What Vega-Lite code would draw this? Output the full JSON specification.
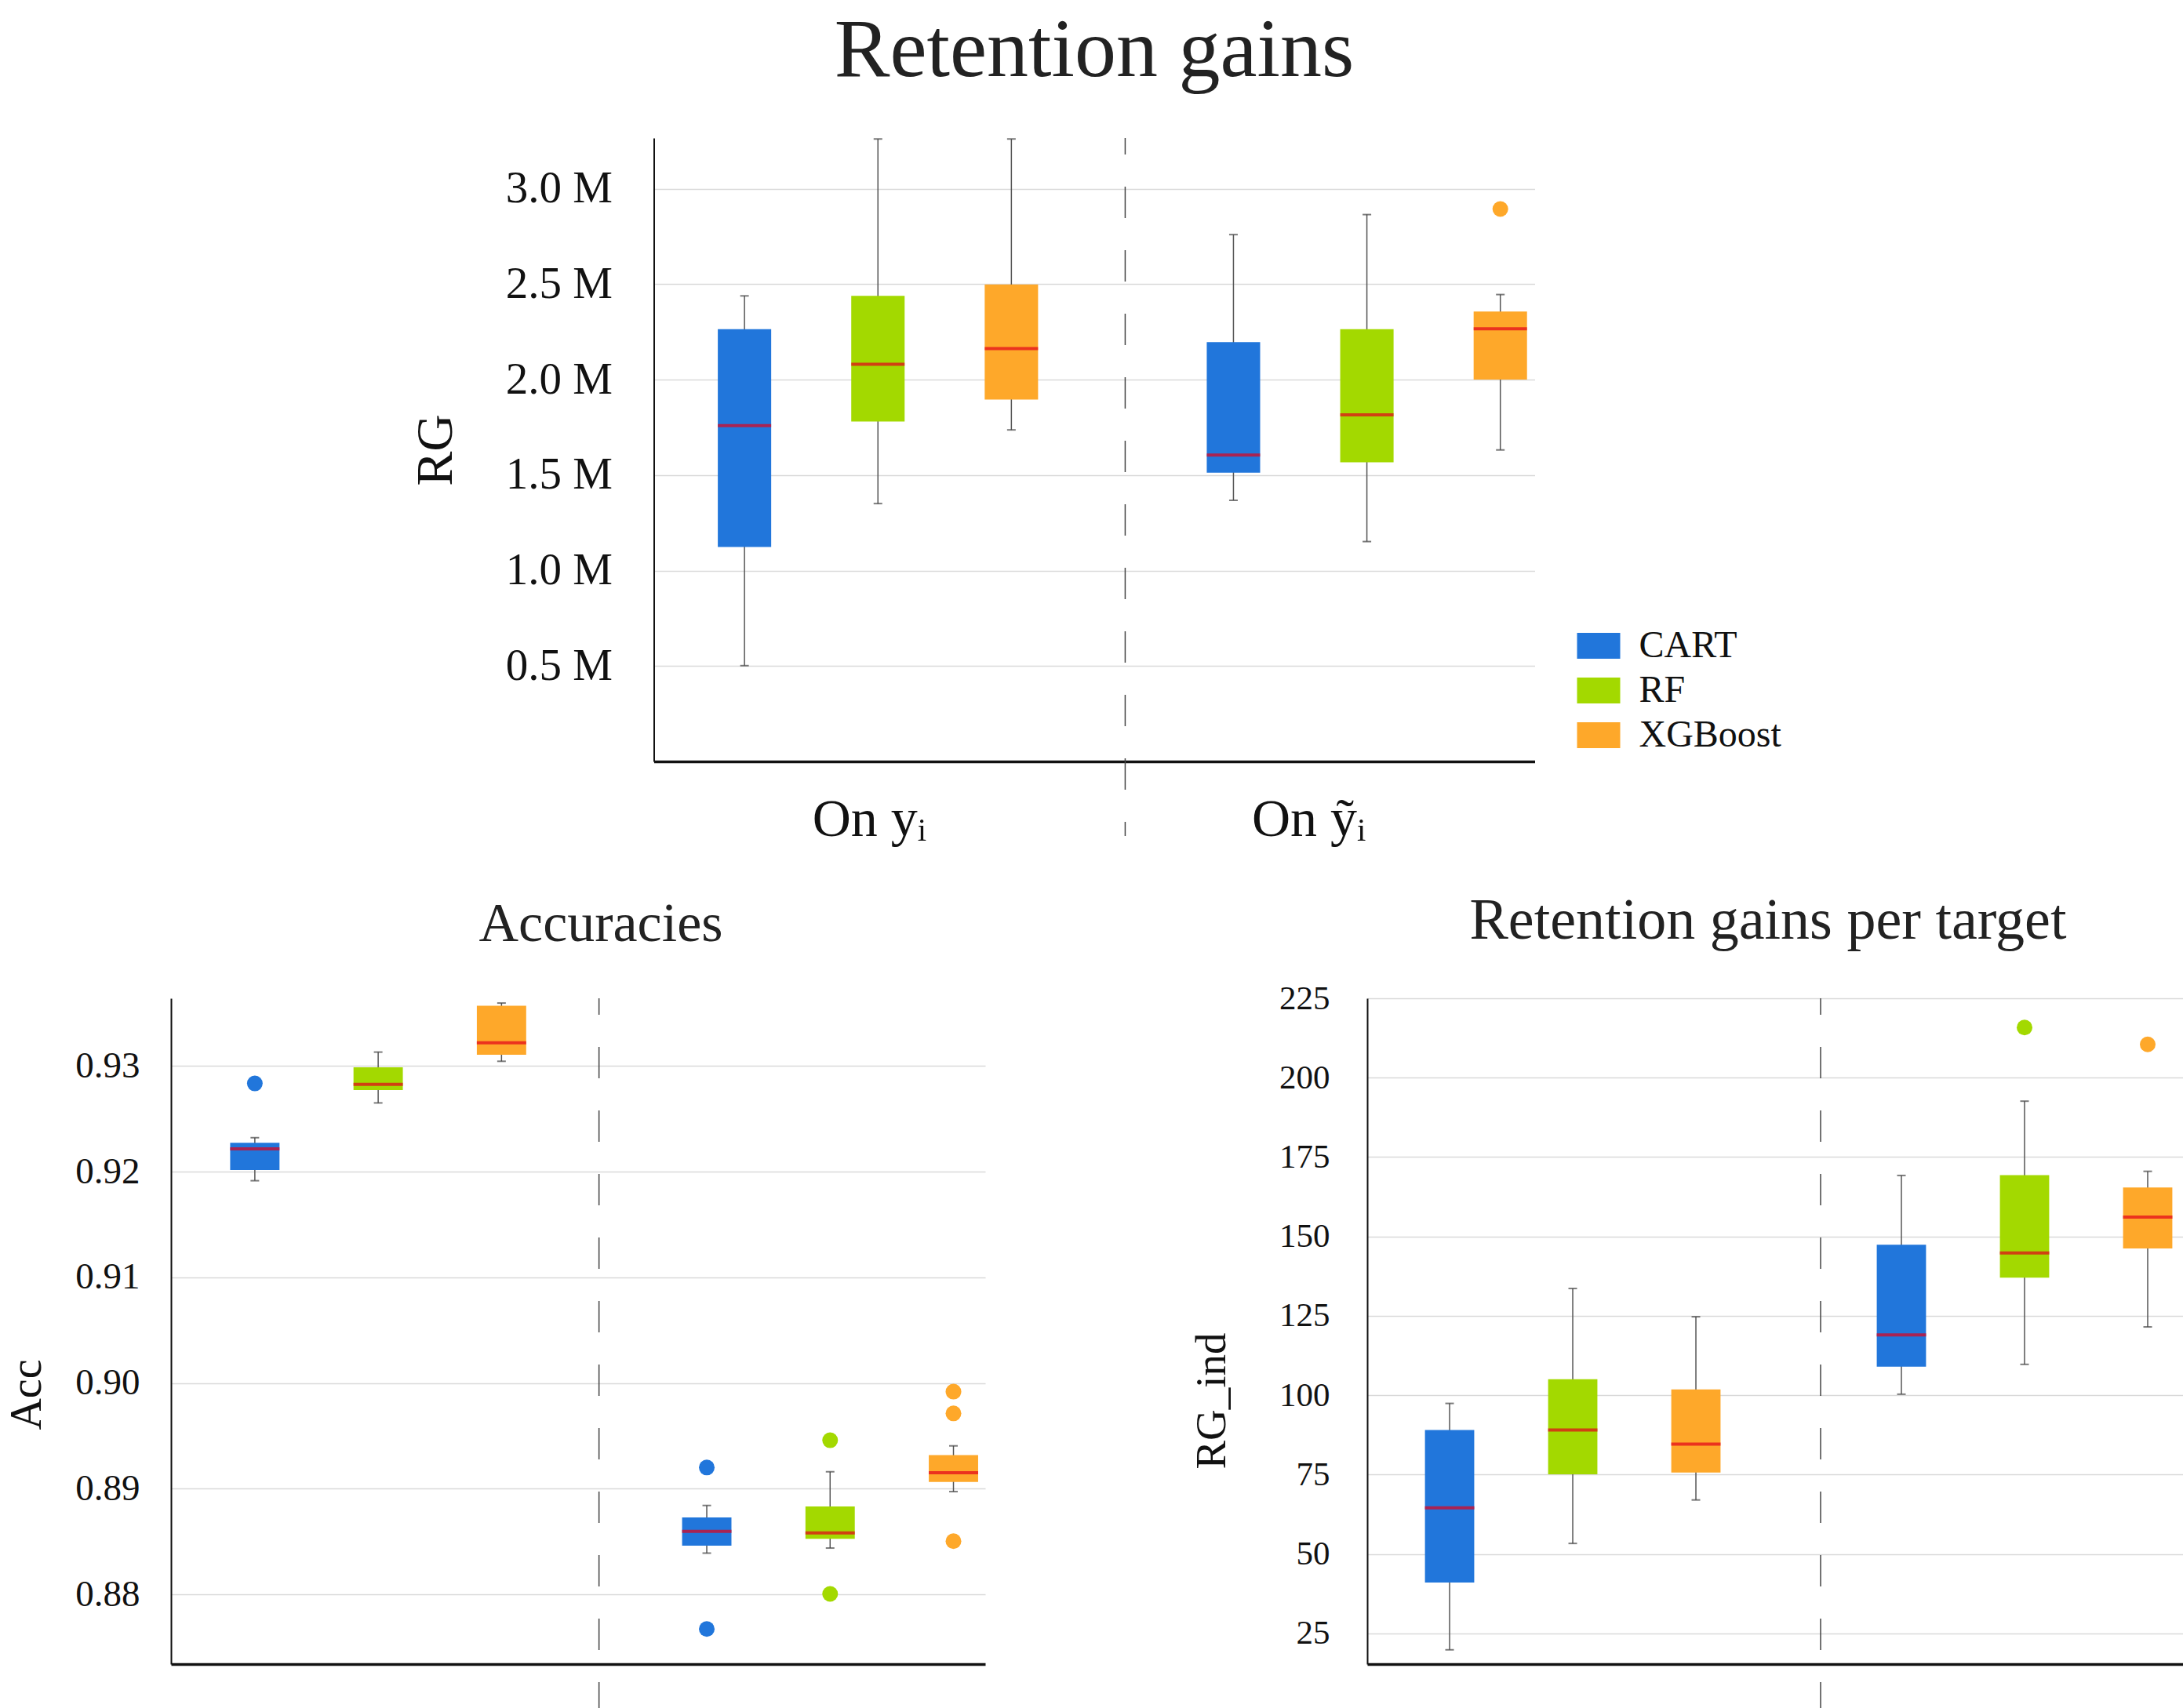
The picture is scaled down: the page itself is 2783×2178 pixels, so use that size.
{
  "$schema": "https://vega.github.io/schema/vega-lite/v6.json",
  "background": "white",
  "padding": {"left": 6, "top": 12, "right": 0, "bottom": 0},
  "config": {
    "font": "Liberation Serif",
    "view": {"stroke": null},
    "axis": {"labelFont": "Liberation Serif", "titleFont": "Liberation Serif", "labelColor": "#111111", "titleColor": "#111111", "titleFontWeight": "normal", "gridColor": "#d9d9d9", "gridWidth": 1.5, "domainColor": "#111111", "ticks": false},
    "axisX": {"grid": false},
    "title": {"font": "Liberation Serif", "fontWeight": "normal", "color": "#222222"}
  },
  "datasets": {
    "rg": [
      {"target": "On yᵢ", "model": "CART", "min": 502000, "q1": 1124000, "median": 1759000, "q3": 2265000, "max": 2439000},
      {"target": "On yᵢ", "model": "RF", "min": 1351000, "q1": 1781000, "median": 2081000, "q3": 2439000, "max": 3261000},
      {"target": "On yᵢ", "model": "XGBoost", "min": 1737000, "q1": 1896000, "median": 2163000, "q3": 2499000, "max": 3261000},
      {"target": "On ỹᵢ", "model": "CART", "min": 1368000, "q1": 1513000, "median": 1605000, "q3": 2197000, "max": 2760000},
      {"target": "On ỹᵢ", "model": "RF", "min": 1152000, "q1": 1567000, "median": 1816000, "q3": 2265000, "max": 2865000},
      {"target": "On ỹᵢ", "model": "XGBoost", "min": 1632000, "q1": 2001000, "median": 2267000, "q3": 2357000, "max": 2446000}
    ],
    "rg_out": [
      {"target": "On ỹᵢ", "model": "XGBoost", "value": 2894000}
    ],
    "acc": [
      {"target": "On yᵢ", "model": "CART", "min": 0.91914, "q1": 0.92015, "median": 0.92216, "q3": 0.92273, "max": 0.92321},
      {"target": "On yᵢ", "model": "RF", "min": 0.9265, "q1": 0.92772, "median": 0.92825, "q3": 0.92987, "max": 0.93131},
      {"target": "On yᵢ", "model": "XGBoost", "min": 0.93044, "q1": 0.93105, "median": 0.93219, "q3": 0.93569, "max": 0.93595},
      {"target": "On ỹᵢ", "model": "CART", "min": 0.8839, "q1": 0.8846, "median": 0.88595, "q3": 0.88727, "max": 0.88841},
      {"target": "On ỹᵢ", "model": "RF", "min": 0.88438, "q1": 0.88525, "median": 0.88582, "q3": 0.88832, "max": 0.8916},
      {"target": "On ỹᵢ", "model": "XGBoost", "min": 0.88972, "q1": 0.89064, "median": 0.89151, "q3": 0.89318, "max": 0.89405}
    ],
    "acc_out": [
      {"target": "On yᵢ", "model": "CART", "value": 0.92834},
      {"target": "On ỹᵢ", "model": "CART", "value": 0.892},
      {"target": "On ỹᵢ", "model": "CART", "value": 0.87672},
      {"target": "On ỹᵢ", "model": "RF", "value": 0.89458},
      {"target": "On ỹᵢ", "model": "RF", "value": 0.88004},
      {"target": "On ỹᵢ", "model": "XGBoost", "value": 0.89918},
      {"target": "On ỹᵢ", "model": "XGBoost", "value": 0.89712},
      {"target": "On ỹᵢ", "model": "XGBoost", "value": 0.88503}
    ],
    "ind": [
      {"target": "On yᵢ", "model": "CART", "min": 19.8, "q1": 41.0, "median": 64.5, "q3": 89.0, "max": 97.4},
      {"target": "On yᵢ", "model": "RF", "min": 53.3, "q1": 75.1, "median": 89.0, "q3": 105.0, "max": 133.6},
      {"target": "On yᵢ", "model": "XGBoost", "min": 67.0, "q1": 75.6, "median": 84.6, "q3": 101.8, "max": 124.7},
      {"target": "On ỹᵢ", "model": "CART", "min": 100.3, "q1": 109.0, "median": 119.0, "q3": 147.4, "max": 169.2},
      {"target": "On ỹᵢ", "model": "RF", "min": 109.7, "q1": 137.0, "median": 144.8, "q3": 169.3, "max": 192.6},
      {"target": "On ỹᵢ", "model": "XGBoost", "min": 121.5, "q1": 146.2, "median": 156.1, "q3": 165.4, "max": 170.5}
    ],
    "ind_out": [
      {"target": "On ỹᵢ", "model": "RF", "value": 215.8},
      {"target": "On ỹᵢ", "model": "XGBoost", "value": 210.5}
    ],
    "sep": [
      {"target": "On yᵢ"}
    ]
  },
  "spacing": 59,
  "center": true,
  "resolve": {"scale": {"color": "independent", "x": "independent", "y": "independent", "xOffset": "independent"}, "legend": {"color": "independent"}},
  "vconcat": [
    {
      "title": {"text": "Retention gains", "fontSize": 106, "frame": "group", "anchor": "middle", "baseline": "alphabetic", "offset": -28},
      "width": 1123,
      "height": 795,
      "layer": [
        {
          "data": {"name": "rg"},
          "mark": {"type": "rule", "color": "#555555", "strokeWidth": 1.5},
          "encoding": {
            "x": {"field": "target", "type": "nominal", "scale": {"domain": ["On yᵢ", "On ỹᵢ"], "paddingInner": 0.345, "paddingOuter": 0.0733, "align": 0.893}, "axis": {"title": null, "labelFontSize": 68, "labelPadding": 40, "labelAngle": 0, "domainWidth": 3.5, "grid": false, "labelOffset": {"condition": {"test": "datum.value === 'On yᵢ'", "value": -11}, "value": -74}}},
            "xOffset": {"field": "model", "type": "nominal", "scale": {"domain": ["CART", "RF", "XGBoost"], "paddingInner": 0.6, "paddingOuter": 0}},
            "y": {"field": "min", "type": "quantitative", "scale": {"domain": [0, 3266000], "nice": false, "zero": false}, "axis": {"title": "RG", "titleFontSize": 66, "titlePadding": 55, "labelFontSize": 57, "labelPadding": 53, "domainWidth": 2, "values": [500000, 1000000, 1500000, 2000000, 2500000, 3000000], "labelExpr": "format(datum.value / 1000000, '.1f') + ' M'"}},
            "y2": {"field": "max"}
          }
        },
        {
          "data": {"name": "sep"},
          "mark": {"type": "rule", "color": "#444444", "strokeWidth": 1.5, "strokeDash": [40, 41], "strokeDashOffset": 19, "clip": false},
          "encoding": {
            "x": {"field": "target", "type": "nominal", "bandPosition": 1.272},
            "y": {"datum": 3266000, "type": "quantitative"},
            "y2": {"datum": -390000}
          }
        },
        {
          "data": {"name": "rg"},
          "mark": {"type": "tick", "color": "#444444", "size": 11, "thickness": 2},
          "encoding": {
            "x": {"field": "target", "type": "nominal"},
            "xOffset": {"field": "model", "type": "nominal"},
            "y": {"field": "min", "type": "quantitative"}
          }
        },
        {
          "data": {"name": "rg"},
          "mark": {"type": "tick", "color": "#444444", "size": 11, "thickness": 2},
          "encoding": {
            "x": {"field": "target", "type": "nominal"},
            "xOffset": {"field": "model", "type": "nominal"},
            "y": {"field": "max", "type": "quantitative"}
          }
        },
        {
          "data": {"name": "rg"},
          "mark": {"type": "bar"},
          "encoding": {
            "x": {"field": "target", "type": "nominal"},
            "xOffset": {"field": "model", "type": "nominal"},
            "y": {"field": "q1", "type": "quantitative"},
            "y2": {"field": "q3"},
            "color": {"field": "model", "type": "nominal", "scale": {"domain": ["CART", "RF", "XGBoost"], "range": ["#2176DB", "#A3D900", "#FEA82A"]}, "legend": {"orient": "none", "legendX": 1177, "legendY": 620, "title": null, "symbolType": "M-1,-0.6H1V0.6H-1Z", "symbolSize": 3025, "labelFontSize": 48, "labelFont": "Liberation Serif", "labelColor": "#111111", "labelOffset": 24, "labelLimit": 0, "rowPadding": 5, "padding": 0, "symbolStrokeWidth": 0, "symbolOpacity": 1}}
          }
        },
        {
          "data": {"name": "rg"},
          "mark": {"type": "tick", "color": "#E2001A", "size": 68, "thickness": 4},
          "encoding": {
            "x": {"field": "target", "type": "nominal"},
            "xOffset": {"field": "model", "type": "nominal"},
            "y": {"field": "median", "type": "quantitative"}
          }
        },
        {
          "data": {"name": "rg_out"},
          "mark": {"type": "circle", "size": 400, "opacity": 1},
          "encoding": {
            "x": {"field": "target", "type": "nominal"},
            "xOffset": {"field": "model", "type": "nominal"},
            "y": {"field": "value", "type": "quantitative"},
            "color": {"field": "model", "type": "nominal", "legend": null}
          }
        }
      ]
    },
    {
      "spacing": 261,
      "resolve": {"scale": {"color": "independent", "x": "independent", "y": "independent", "xOffset": "independent"}, "legend": {"color": "independent"}},
      "hconcat": [
        {
          "title": {"text": "Accuracies", "fontSize": 70, "frame": "group", "anchor": "middle", "baseline": "alphabetic", "offset": 2, "dx": 29},
          "width": 1038,
          "height": 849,
          "layer": [
            {
              "data": {"name": "acc"},
              "mark": {"type": "rule", "color": "#555555", "strokeWidth": 1.5},
              "encoding": {
                "x": {"field": "target", "type": "nominal", "scale": {"domain": ["On yᵢ", "On ỹᵢ"], "paddingInner": 0.345, "paddingOuter": 0.0733, "align": 0.893}, "axis": {"title": null, "labels": false, "domainWidth": 3.5, "grid": false}},
                "xOffset": {"field": "model", "type": "nominal", "scale": {"domain": ["CART", "RF", "XGBoost"], "paddingInner": 0.6, "paddingOuter": 0}},
                "y": {"field": "min", "type": "quantitative", "scale": {"domain": [0.8734, 0.9364], "nice": false, "zero": false}, "axis": {"title": "Acc", "titleFontSize": 56, "titlePadding": 32, "titleY": 505, "labelFontSize": 47, "labelPadding": 40, "domainWidth": 2, "values": [0.88, 0.89, 0.9, 0.91, 0.92, 0.93], "format": ".2f"}},
                "y2": {"field": "max"}
              }
            },
            {
              "data": {"name": "sep"},
              "mark": {"type": "rule", "color": "#444444", "strokeWidth": 1.5, "strokeDash": [40, 41], "strokeDashOffset": 19, "clip": false},
              "encoding": {
                "x": {"field": "target", "type": "nominal", "bandPosition": 1.246},
                "y": {"datum": 0.9364, "type": "quantitative"},
                "y2": {"datum": 0.86}
              }
            },
            {
              "data": {"name": "acc"},
              "mark": {"type": "tick", "color": "#444444", "size": 11, "thickness": 2},
              "encoding": {
                "x": {"field": "target", "type": "nominal"},
                "xOffset": {"field": "model", "type": "nominal"},
                "y": {"field": "min", "type": "quantitative"}
              }
            },
            {
              "data": {"name": "acc"},
              "mark": {"type": "tick", "color": "#444444", "size": 11, "thickness": 2},
              "encoding": {
                "x": {"field": "target", "type": "nominal"},
                "xOffset": {"field": "model", "type": "nominal"},
                "y": {"field": "max", "type": "quantitative"}
              }
            },
            {
              "data": {"name": "acc"},
              "mark": {"type": "bar"},
              "encoding": {
                "x": {"field": "target", "type": "nominal"},
                "xOffset": {"field": "model", "type": "nominal"},
                "y": {"field": "q1", "type": "quantitative"},
                "y2": {"field": "q3"},
                "color": {"field": "model", "type": "nominal", "scale": {"domain": ["CART", "RF", "XGBoost"], "range": ["#2176DB", "#A3D900", "#FEA82A"]}, "legend": null}
              }
            },
            {
              "data": {"name": "acc"},
              "mark": {"type": "tick", "color": "#E2001A", "size": 63, "thickness": 4},
              "encoding": {
                "x": {"field": "target", "type": "nominal"},
                "xOffset": {"field": "model", "type": "nominal"},
                "y": {"field": "median", "type": "quantitative"}
              }
            },
            {
              "data": {"name": "acc_out"},
              "mark": {"type": "circle", "size": 400, "opacity": 1},
              "encoding": {
                "x": {"field": "target", "type": "nominal"},
                "xOffset": {"field": "model", "type": "nominal"},
                "y": {"field": "value", "type": "quantitative"},
                "color": {"field": "model", "type": "nominal", "legend": null}
              }
            }
          ]
        },
        {
          "title": {"text": "Retention gains per target", "fontSize": 74, "frame": "group", "anchor": "middle", "baseline": "alphabetic", "offset": -19, "dx": -61},
          "width": 1144,
          "height": 849,
          "layer": [
            {
              "data": {"name": "ind"},
              "mark": {"type": "rule", "color": "#555555", "strokeWidth": 1.5},
              "encoding": {
                "x": {"field": "target", "type": "nominal", "scale": {"domain": ["On yᵢ", "On ỹᵢ"], "paddingInner": 0.3458, "paddingOuter": 0.166, "align": 0.385}, "axis": {"title": null, "labels": false, "domainWidth": 3.5, "grid": false}},
                "xOffset": {"field": "model", "type": "nominal", "scale": {"domain": ["CART", "RF", "XGBoost"], "paddingInner": 0.6, "paddingOuter": 0}},
                "y": {"field": "min", "type": "quantitative", "scale": {"domain": [15.3, 225], "nice": false, "zero": false}, "axis": {"title": "RG_ind", "titleFontSize": 55, "titlePadding": 57, "titleY": 513, "labelFontSize": 43, "labelPadding": 48, "domainWidth": 2, "values": [25, 50, 75, 100, 125, 150, 175, 200, 225]}},
                "y2": {"field": "max"}
              }
            },
            {
              "data": {"name": "sep"},
              "mark": {"type": "rule", "color": "#444444", "strokeWidth": 1.5, "strokeDash": [40, 41], "strokeDashOffset": 19, "clip": false},
              "encoding": {
                "x": {"field": "target", "type": "nominal", "bandPosition": 1.3386},
                "y": {"datum": 225, "type": "quantitative"},
                "y2": {"datum": -20}
              }
            },
            {
              "data": {"name": "ind"},
              "mark": {"type": "tick", "color": "#444444", "size": 11, "thickness": 2},
              "encoding": {
                "x": {"field": "target", "type": "nominal"},
                "xOffset": {"field": "model", "type": "nominal"},
                "y": {"field": "min", "type": "quantitative"}
              }
            },
            {
              "data": {"name": "ind"},
              "mark": {"type": "tick", "color": "#444444", "size": 11, "thickness": 2},
              "encoding": {
                "x": {"field": "target", "type": "nominal"},
                "xOffset": {"field": "model", "type": "nominal"},
                "y": {"field": "max", "type": "quantitative"}
              }
            },
            {
              "data": {"name": "ind"},
              "mark": {"type": "bar"},
              "encoding": {
                "x": {"field": "target", "type": "nominal"},
                "xOffset": {"field": "model", "type": "nominal"},
                "y": {"field": "q1", "type": "quantitative"},
                "y2": {"field": "q3"},
                "color": {"field": "model", "type": "nominal", "scale": {"domain": ["CART", "RF", "XGBoost"], "range": ["#2176DB", "#A3D900", "#FEA82A"]}, "legend": null}
              }
            },
            {
              "data": {"name": "ind"},
              "mark": {"type": "tick", "color": "#E2001A", "size": 63, "thickness": 4},
              "encoding": {
                "x": {"field": "target", "type": "nominal"},
                "xOffset": {"field": "model", "type": "nominal"},
                "y": {"field": "median", "type": "quantitative"}
              }
            },
            {
              "data": {"name": "ind_out"},
              "mark": {"type": "circle", "size": 400, "opacity": 1},
              "encoding": {
                "x": {"field": "target", "type": "nominal"},
                "xOffset": {"field": "model", "type": "nominal"},
                "y": {"field": "value", "type": "quantitative"},
                "color": {"field": "model", "type": "nominal", "legend": null}
              }
            }
          ]
        }
      ]
    }
  ]
}
